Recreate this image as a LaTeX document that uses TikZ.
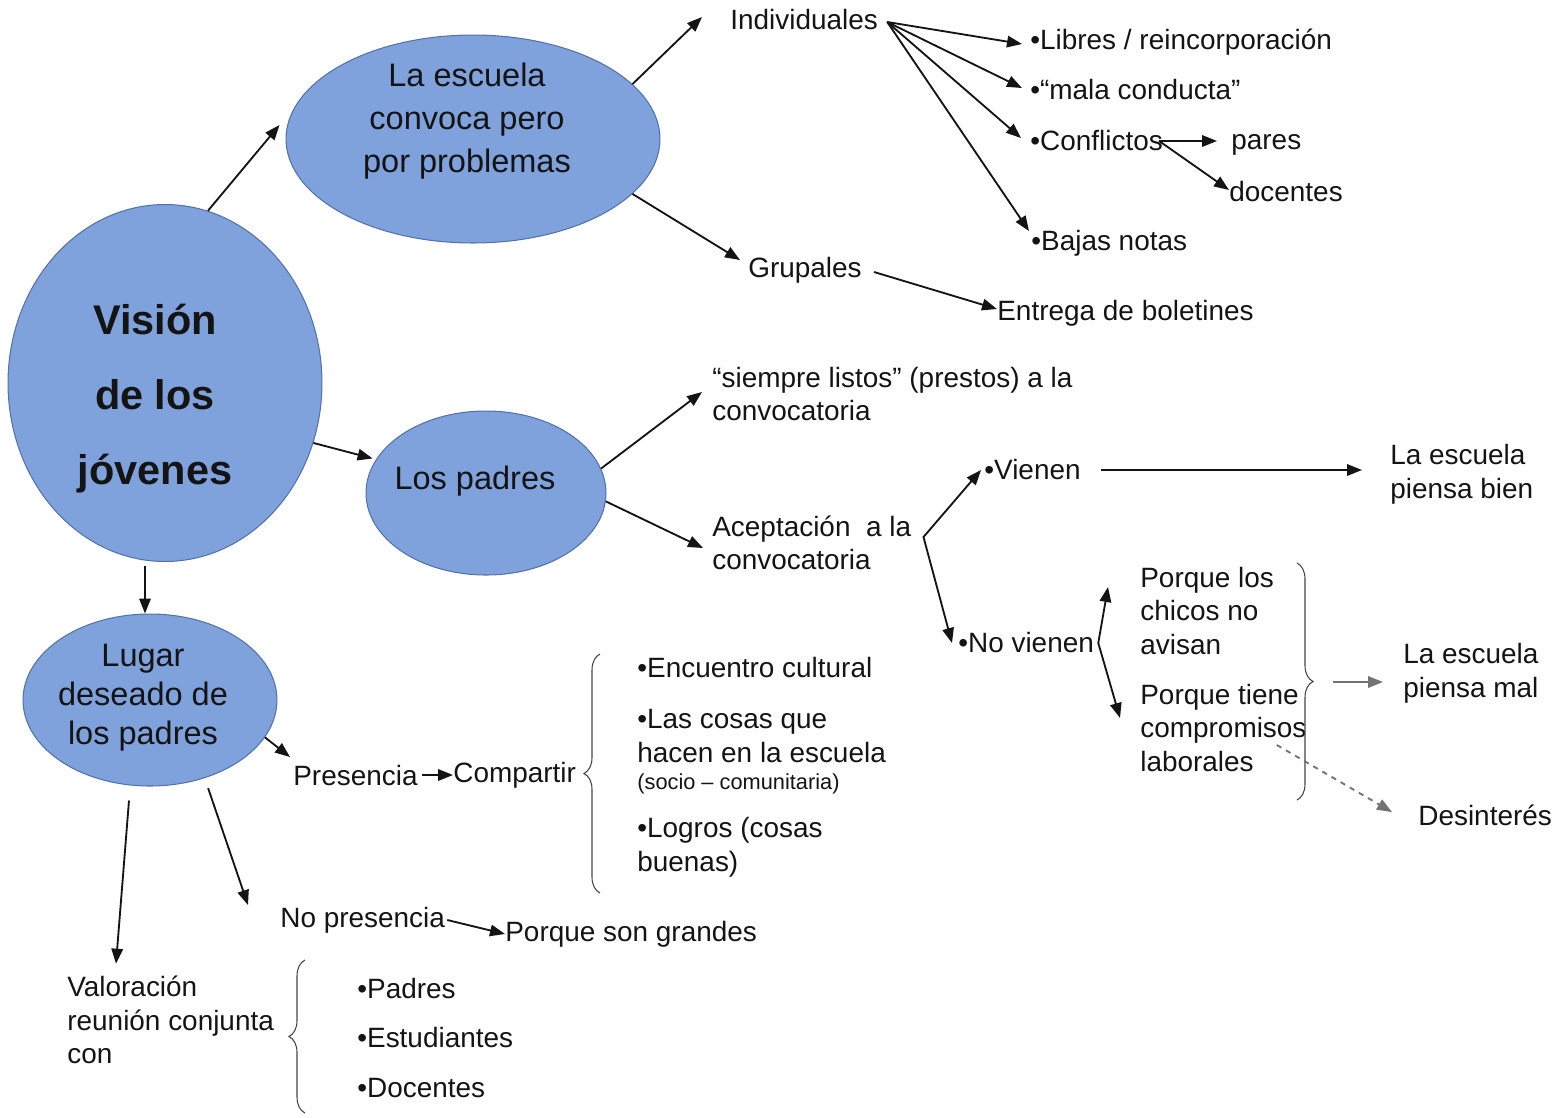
\documentclass[tikz,border=0pt]{standalone}
\usepackage{fontspec}
\setmainfont{Liberation Sans}
\usetikzlibrary{shapes.geometric,arrows.meta,calc,decorations.pathreplacing}
\definecolor{bubblefill}{RGB}{128,162,220}
\definecolor{bubbledraw}{RGB}{84,114,170}
\definecolor{ink}{RGB}{20,20,20}
\tikzset{
    bubble/.style={ellipse, fill=bubblefill, draw=bubbledraw, line width=0.6pt, inner sep=0pt},
    btxt/.style={inner sep=0pt, align=center, text=ink, font=\fontsize{18.5}{24.5}\selectfont},
    txt/.style={anchor=west, inner sep=0pt, align=left, text=ink, font=\fontsize{15.9}{19.1}\selectfont},
    tip/.style={-{Triangle[length=0.3cm,width=0.23cm]}},
    arr/.style={draw=ink, line width=1.05pt, tip},
    twoway/.style={draw=ink, line width=1.05pt, {Triangle[length=0.3cm,width=0.23cm]}-{Triangle[length=0.3cm,width=0.23cm]}},
    brc/.style={draw=ink!80, line width=0.6pt, decorate, decoration={brace, amplitude=0.32cm}}
}
\begin{document}
\begin{tikzpicture}[x=0.02cm, y=-0.02cm]
        \useasboundingbox (0,0) rectangle (1559,1117);
        % the four bubbles
        \node[bubble, minimum width=6.28cm, minimum height=7.14cm] (vision) at (165,383) {};
        \node[btxt, font=\fontsize{23.6}{42.7}\selectfont\bfseries] (visiontxt) at (155,399) {Visión\\de los\\jóvenes};
        \node[bubble, minimum width=7.48cm, minimum height=4.16cm] (escuela) at (473,139) {};
        \node[btxt] (escuelatxt) at (467,121) {La escuela\\convoca pero\\por problemas};
        \node[bubble, minimum width=4.8cm, minimum height=3.28cm] (padres) at (486,493) {};
        \node[btxt] (padrestxt) at (475,481) {Los padres};
        \node[bubble, minimum width=5.08cm, minimum height=3.44cm] (lugar) at (150,700) {};
        \node[btxt, font=\fontsize{18.5}{22.2}\selectfont] (lugartxt) at (143,698) {Lugar\\deseado de\\los padres};
        % the school calls, but for problems
        \node[txt] (indiv) at (730,20) {Individuales};
        \node[txt] (libres) at (1030,42) {•Libres / reincorporación};
        \node[txt] (mala) at (1030,90) {•“mala conducta”};
        \node[txt] (confl) at (1030,141) {•Conflictos};
        \node[txt] (pares) at (1231,145) {pares};
        \node[txt] (docentes) at (1229,192) {docentes};
        \node[txt] (bajas) at (1031,243) {•Bajas notas};
        \node[txt] (grupales) at (748,270) {Grupales};
        \node[txt] (entrega) at (997,313) {Entrega de boletines};
        % the parents
        \node[txt] (siempre) at (712,394) {“siempre listos” (prestos) a la\\convocatoria};
        \node[txt] (acept) at (712,543) {Aceptación\ \ a la\\convocatoria};
        \node[txt] (vienen) at (984,470) {•Vienen};
        \node[txt] (bien) at (1390,474) {La escuela\\piensa bien};
        \node[txt] (novienen) at (958,643) {•No vienen};
        \node[txt] (chicos) at (1140,611) {Porque los\\chicos no\\avisan};
        \node[txt] (laboral) at (1140,728) {Porque tiene\\compromisos\\laborales};
        \node[txt] (mal) at (1403,673) {La escuela\\piensa mal};
        \node[txt] (desint) at (1418,815) {Desinterés};
        % wished place of the parents
        \node[txt] (presencia) at (293,775) {Presencia};
        \node[txt] (compartir) at (453,775) {Compartir};
        \node[txt] (encuentro) at (637,668) {•Encuentro cultural};
        \node[txt] (cosas) at (637,736) {•Las cosas que\\hacen en la escuela};
        \node[txt, font=\fontsize{12.4}{15}\selectfont] (socio) at (637,784) {(socio – comunitaria)};
        \node[txt] (logros) at (637,847) {•Logros (cosas\\buenas)};
        \node[txt] (nopres) at (280,920) {No presencia};
        \node[txt] (grandes) at (505,934) {Porque son grandes};
        \node[txt] (valor) at (67,1020) {Valoración\\reunión conjunta\\con};
        \node[txt] (padresi) at (357,988) {•Padres};
        \node[txt] (estud) at (357,1037) {•Estudiantes};
        \node[txt] (docs) at (357,1088) {•Docentes};
        % forks
        \coordinate (fan) at ($(indiv.east)+(9,2)$);
        \coordinate (cfork) at ($(confl.east)+(-4,0)$);
        \coordinate (vfork) at ($(acept.east)+(12,-6)$);
        \coordinate (nfork) at ($(novienen.east)+(4,0)$);
        % arrows, top part
        \draw[arr] (vision.76) -- ($(escuela.west)+(-6,-14)$);
        \draw[arr] (escuela.19) -- ($(indiv.west)+(-28,-3)$);
        \draw[arr] (escuela.-19) -- ($(grupales.west)+(-8,-10)$);
        \draw[arr] (fan) -- ($(libres.west)+(-8,2)$);
        \draw[arr] (fan) -- ($(mala.west)+(-8,-2)$);
        \draw[arr] (fan) -- ($(confl.west)+(-9,-3)$);
        \draw[arr] (fan) -- ($(bajas.west)+(-2,-12)$);
        \draw[arr] (cfork) -- ($(pares.west)+(-14,-4)$);
        \draw[arr] (cfork) -- ($(docentes.west)+(0,-2)$);
        \draw[arr] ($(grupales.east)+(12,2)$) -- ($(entrega.west)+(0,-4)$);
        % arrows, middle part
        \draw[arr, shorten >=2pt] (vision.-22) -- (padres.163);
        \draw[arr] (padres.12) -- ($(siempre.west)+(-10,-2)$);
        \draw[arr] (padres.-4) -- ($(acept.west)+(-9,5)$);
        \draw[twoway] ($(vienen.west)+(-3,0)$) -- (vfork) -- ($(novienen.west)+(-6,0)$);
        \draw[arr] ($(vienen.east)+(20,0)$) -- ($(bien.west)+(-28,-4)$);
        \draw[twoway] ($(chicos.west)+(-32,-24)$) -- (nfork) -- ($(laboral.west)+(-20,-10)$);
        \draw[brc] (1297,563) -- (1297,800);
        \coordinate (btip) at (1318,682);
        \draw[arr, draw=black!55] ($(btip)+(15,0)$) -- ($(mal.west)+(-20,9)$);
        \draw[arr, draw=black!55, dashed] ($(laboral.east)+(-30,17)$) -- ($(desint.west)+(-26,-3)$);
        % arrows, bottom part
        \draw[arr] ($(vision.south)+(-20,4)$) -- ($(lugar.north)+(-5,0)$);
        \draw[arr] (lugar.-18) -- ($(presencia.west)+(-3,-18)$);
        \draw[arr] ($(presencia.east)+(4,0)$) -- (compartir.west);
        \draw[brc] (600,893) -- (600,654);
        \draw[arr, shorten <=6pt] (lugar.-55) -- ($(nopres.west)+(-32,-15)$);
        \draw[arr] ($(nopres.east)+(2,0)$) -- (grandes.west);
        \draw[arr] ($(lugar.south)+(-21,14)$) -- ($(valor.north west)+(49,-12)$);
        \draw[brc] (305,1113) -- (305,960);
\end{tikzpicture}
\end{document}
